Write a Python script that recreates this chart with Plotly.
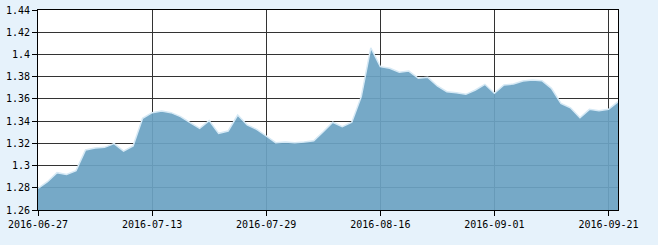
import plotly.graph_objects as go

dates = [
    "2016-06-27", "2016-06-28", "2016-06-29", "2016-06-30", "2016-07-01",
    "2016-07-04", "2016-07-05", "2016-07-06", "2016-07-07", "2016-07-08",
    "2016-07-11", "2016-07-12", "2016-07-13", "2016-07-14", "2016-07-15",
    "2016-07-18", "2016-07-19", "2016-07-20", "2016-07-21", "2016-07-22",
    "2016-07-25", "2016-07-26", "2016-07-27", "2016-07-28", "2016-07-29",
    "2016-08-01", "2016-08-02", "2016-08-03", "2016-08-04", "2016-08-05",
    "2016-08-08", "2016-08-09", "2016-08-10", "2016-08-11", "2016-08-12",
    "2016-08-15", "2016-08-16", "2016-08-17", "2016-08-18", "2016-08-19",
    "2016-08-22", "2016-08-23", "2016-08-24", "2016-08-25", "2016-08-26",
    "2016-08-29", "2016-08-30", "2016-08-31", "2016-09-01", "2016-09-02",
    "2016-09-05", "2016-09-06", "2016-09-07", "2016-09-08", "2016-09-09",
    "2016-09-12", "2016-09-13", "2016-09-14", "2016-09-19", "2016-09-20",
    "2016-09-21", "2016-09-22",
]

values = [
    1.2795, 1.2855, 1.2936, 1.2920, 1.2954, 1.3140, 1.3158, 1.3164, 1.3197, 1.3130,
    1.3176, 1.3425, 1.3476, 1.3491, 1.3476, 1.3440, 1.3386, 1.3335, 1.3404, 1.3290,
    1.3311, 1.3455, 1.3365, 1.3326, 1.3266, 1.3206, 1.3212, 1.3206, 1.3212, 1.3224,
    1.3305, 1.3390, 1.3350, 1.3390, 1.3620, 1.4060, 1.3890, 1.3875, 1.3840, 1.3850,
    1.3785, 1.3794, 1.3716, 1.3665, 1.3656, 1.3641, 1.3680, 1.3731, 1.3650, 1.3725,
    1.3734, 1.3761, 1.3770, 1.3764, 1.3695, 1.3560, 1.3520, 1.3430, 1.3506, 1.3494,
    1.3506, 1.3575,
]

x_tick_labels = ["2016-06-27", "2016-07-13", "2016-07-29", "2016-08-16", "2016-09-01", "2016-09-21"]
y_tick_values = [1.26, 1.28, 1.30, 1.32, 1.34, 1.36, 1.38, 1.40, 1.42, 1.44]
y_tick_labels = ["1.26", "1.28", "1.3", "1.32", "1.34", "1.36", "1.38", "1.4", "1.42", "1.44"]

fig = go.Figure()
fig.add_trace(go.Scatter(
    x=dates, y=values, mode="lines", fill="tozeroy",
    fillcolor="rgba(108,163,195,0.93)",
    line=dict(color="#d6e9f5", width=1.5),
    hoverinfo="skip",
))

font = dict(family="DejaVu Sans Mono", size=10, color="#000000")

fig.update_layout(
    template="none",
    width=658, height=245,
    margin=dict(l=38, r=40, t=10, b=35, pad=0),
    paper_bgcolor="#e6f2fb",
    plot_bgcolor="#ffffff",
    showlegend=False,
    font=font,
    xaxis=dict(
        type="category", range=[0, len(dates) - 1], automargin=False,
        tickvals=x_tick_labels, ticktext=x_tick_labels,
        showgrid=True, gridcolor="#333333", gridwidth=1,
        showline=True, linecolor="#000000", linewidth=1, mirror=True,
        ticks="outside", ticklen=5, tickcolor="#000000",
        tickfont=font, zeroline=False, fixedrange=True,
    ),
    yaxis=dict(
        range=[1.26, 1.44], automargin=False,
        tickvals=y_tick_values, ticktext=y_tick_labels,
        showgrid=True, gridcolor="#333333", gridwidth=1,
        showline=True, linecolor="#000000", linewidth=1, mirror=True,
        ticks="outside", ticklen=5, tickcolor="#000000",
        tickfont=font, zeroline=False, fixedrange=True,
    ),
)

fig.write_html("out.html", config={"displayModeBar": False})
